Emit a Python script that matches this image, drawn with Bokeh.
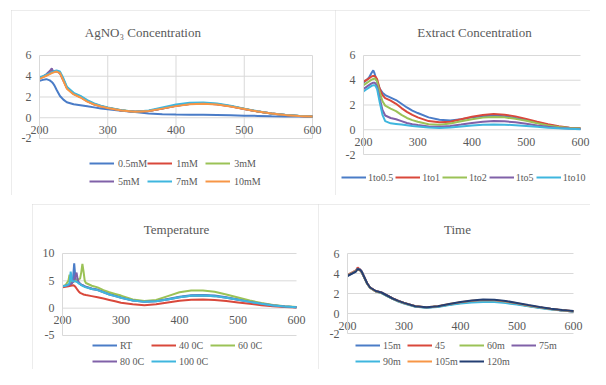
from bokeh.plotting import figure
from bokeh.models import (Range1d, FixedTicker, Legend, LegendItem, LinearAxis, Spacer, Label)
from bokeh.layouts import row, column
from bokeh.embed import file_html
from bokeh.resources import INLINE

# ---------------- data ----------------
wl = [200, 205, 210, 215, 218, 220, 222, 225, 230, 235, 240, 250, 260, 270, 280, 290,
      300, 320, 340, 360, 380, 400, 420, 440, 460, 480, 500, 520, 540, 560, 580, 600]

ag_names = ["0.5mM", "1mM", "3mM", "5mM", "7mM", "10mM"]
ag_05 = [3.55, 3.65, 3.72, 3.6, 3.45, 3.3, 3.1, 2.7, 2.1, 1.75, 1.5, 1.3, 1.2, 1.1, 1.0, 0.9,
         0.82, 0.68, 0.55, 0.42, 0.34, 0.31, 0.3, 0.28, 0.26, 0.23, 0.2, 0.18, 0.15, 0.13, 0.11, 0.1]
ag_1 = [3.8, 3.95, 4.1, 4.3, 4.65, 4.4, 4.45, 4.5, 4.3, 3.6, 2.9, 2.3, 2.0, 1.6, 1.3, 1.1,
        0.95, 0.7, 0.57, 0.65, 0.9, 1.15, 1.32, 1.38, 1.3, 1.1, 0.85, 0.6, 0.4, 0.27, 0.18, 0.12]
ag_3 = [3.85, 3.95, 4.1, 4.25, 4.35, 4.4, 4.45, 4.5, 4.4, 3.7, 2.95, 2.35, 2.05, 1.65, 1.35, 1.12,
        0.96, 0.72, 0.58, 0.66, 0.92, 1.18, 1.36, 1.4, 1.32, 1.12, 0.86, 0.6, 0.4, 0.27, 0.18, 0.12]
ag_5 = [3.8, 3.95, 4.2, 4.5, 4.75, 4.45, 4.45, 4.5, 4.3, 3.6, 2.9, 2.3, 2.0, 1.6, 1.3, 1.1,
        0.95, 0.7, 0.57, 0.65, 0.9, 1.15, 1.33, 1.38, 1.3, 1.1, 0.85, 0.6, 0.4, 0.27, 0.18, 0.12]
ag_7 = [3.9, 4.0, 4.15, 4.3, 4.4, 4.45, 4.5, 4.55, 4.45, 3.8, 3.0, 2.4, 2.1, 1.7, 1.38, 1.15,
        0.98, 0.72, 0.58, 0.7, 1.0, 1.27, 1.45, 1.48, 1.38, 1.15, 0.88, 0.62, 0.42, 0.28, 0.19, 0.13]
ag_10 = [3.75, 3.9, 4.05, 4.2, 4.3, 4.35, 4.4, 4.45, 4.3, 3.55, 2.8, 2.25, 1.95, 1.55, 1.28, 1.08,
         0.93, 0.7, 0.57, 0.64, 0.88, 1.12, 1.3, 1.35, 1.28, 1.08, 0.84, 0.6, 0.4, 0.27, 0.18, 0.12]

ex_names = ["1to0.5", "1to1", "1to2", "1to5", "1to10"]
ex_05 = [3.8, 4.0, 4.2, 4.6, 4.8, 4.6, 4.3, 3.9, 3.3, 3.0, 2.8, 2.6, 2.4, 2.1, 1.8, 1.55,
         1.35, 1.0, 0.8, 0.75, 0.85, 1.0, 1.1, 1.15, 1.1, 0.95, 0.78, 0.58, 0.4, 0.25, 0.15, 0.1]
ex_1 = [3.9, 4.0, 4.15, 4.3, 4.35, 4.35, 4.3, 4.1, 3.3, 2.8, 2.55, 2.35, 2.1, 1.75, 1.45, 1.2,
        1.0, 0.7, 0.6, 0.65, 0.85, 1.05, 1.2, 1.27, 1.22, 1.08, 0.88, 0.65, 0.45, 0.28, 0.17, 0.12]
ex_2 = [3.6, 3.75, 3.9, 4.05, 4.1, 4.15, 4.1, 3.9, 3.0, 2.3, 1.95, 1.7, 1.5, 1.2, 0.95, 0.78,
        0.65, 0.45, 0.4, 0.5, 0.68, 0.85, 0.98, 1.03, 1.0, 0.88, 0.72, 0.52, 0.35, 0.22, 0.14, 0.1]
ex_5 = [3.3, 3.45, 3.6, 3.75, 3.8, 3.8, 3.75, 3.5, 2.5, 1.6, 1.15, 0.95, 0.85, 0.7, 0.55, 0.45,
        0.38, 0.27, 0.24, 0.3, 0.42, 0.55, 0.65, 0.7, 0.68, 0.6, 0.48, 0.35, 0.24, 0.15, 0.1, 0.07]
ex_10 = [3.1, 3.25, 3.4, 3.55, 3.6, 3.6, 3.55, 3.3, 2.2, 1.2, 0.7, 0.52, 0.47, 0.42, 0.36, 0.3,
         0.26, 0.18, 0.15, 0.18, 0.26, 0.34, 0.4, 0.42, 0.41, 0.37, 0.31, 0.24, 0.17, 0.12, 0.08, 0.05]

wl_t = [200, 205, 210, 212, 214, 216, 218, 220, 222, 224, 226, 228, 230, 232, 234, 236, 238, 240,
        250, 260, 270, 280, 290, 300, 320, 340, 360, 380, 400, 420, 440, 460, 480, 500, 520, 540,
        560, 580, 600]
t_names = ["RT", "40 0C", "60 0C", "80 0C", "100 0C"]
t_rt = [4.0, 4.1, 4.2, 4.3, 4.35, 4.5, 5.5, 8.2, 5.5, 5.0, 4.8, 4.6, 4.4, 4.3, 4.2, 4.1, 4.0, 3.9,
        3.6, 3.4, 3.0, 2.6, 2.3, 2.0, 1.45, 1.2, 1.3, 1.7, 2.1, 2.35, 2.4, 2.3, 2.0, 1.6, 1.2, 0.85,
        0.55, 0.3, 0.15]
t_40 = [3.8, 3.9, 4.0, 4.05, 4.1, 4.15, 4.2, 4.1, 3.9, 3.6, 3.3, 3.0, 2.8, 2.7, 2.6, 2.5, 2.45, 2.4,
        2.2, 2.0, 1.75, 1.5, 1.25, 1.0, 0.7, 0.55, 0.7, 1.05, 1.35, 1.55, 1.6, 1.5, 1.3, 1.05, 0.8,
        0.55, 0.35, 0.2, 0.1]
t_60 = [4.0, 4.2, 5.0, 6.1, 4.6, 4.7, 4.8, 4.9, 5.0, 5.1, 5.2, 5.3, 5.4, 6.5, 8.1, 6.7, 5.0, 4.6,
        4.1, 3.8, 3.3, 2.9, 2.6, 2.3, 1.6, 1.3, 1.5, 2.2, 2.9, 3.25, 3.25, 3.0, 2.5, 1.95, 1.4, 0.95,
        0.6, 0.35, 0.2]
t_80 = [4.0, 4.1, 4.2, 4.3, 4.4, 4.6, 4.8, 5.2, 5.8, 6.5, 5.2, 4.7, 4.5, 4.3, 4.2, 4.1, 4.0, 3.9,
        3.5, 3.3, 2.9, 2.5, 2.2, 1.9, 1.4, 1.15, 1.25, 1.6, 2.0, 2.25, 2.3, 2.2, 1.9, 1.55, 1.15, 0.8,
        0.5, 0.3, 0.15]
t_100 = [4.0, 4.1, 4.3, 4.6, 6.7, 5.0, 4.9, 4.9, 4.9, 4.8, 4.7, 4.5, 4.4, 4.2, 4.1, 4.0, 3.9, 3.8,
         3.5, 3.3, 2.9, 2.5, 2.2, 1.9, 1.4, 1.15, 1.25, 1.6, 2.0, 2.25, 2.3, 2.2, 1.9, 1.55, 1.15, 0.8,
         0.5, 0.3, 0.15]

tm_names = ["15m", "45", "60m", "75m", "90m", "105m", "120m"]
tm_15 = [3.8, 3.95, 4.1, 4.25, 4.5, 4.45, 4.4, 4.2, 3.6, 3.0, 2.6, 2.25, 2.1, 1.8, 1.5, 1.25,
         1.05, 0.72, 0.6, 0.7, 0.9, 1.08, 1.2, 1.28, 1.26, 1.14, 0.97, 0.77, 0.59, 0.44, 0.31, 0.21]
tm_45 = [3.85, 4.0, 4.15, 4.3, 4.6, 4.5, 4.4, 4.2, 3.6, 3.0, 2.6, 2.25, 2.1, 1.8, 1.5, 1.25,
         1.05, 0.72, 0.61, 0.71, 0.91, 1.1, 1.23, 1.3, 1.28, 1.16, 0.98, 0.78, 0.6, 0.45, 0.32, 0.22]
tm_60 = [3.8, 3.95, 4.1, 4.25, 4.45, 4.4, 4.35, 4.15, 3.55, 2.95, 2.55, 2.2, 2.05, 1.75, 1.47, 1.22,
         1.02, 0.7, 0.6, 0.69, 0.88, 1.06, 1.18, 1.26, 1.24, 1.12, 0.96, 0.76, 0.58, 0.44, 0.31, 0.21]
tm_75 = [3.82, 3.97, 4.12, 4.27, 4.48, 4.42, 4.38, 4.18, 3.58, 2.98, 2.58, 2.22, 2.08, 1.78, 1.49, 1.24,
         1.04, 0.71, 0.6, 0.7, 0.9, 1.08, 1.21, 1.28, 1.26, 1.14, 0.97, 0.77, 0.59, 0.44, 0.31, 0.21]
tm_90 = [3.8, 3.95, 4.1, 4.25, 4.42, 4.38, 4.35, 4.15, 3.55, 2.95, 2.55, 2.2, 2.05, 1.75, 1.46, 1.2,
         1.0, 0.68, 0.58, 0.66, 0.84, 1.0, 1.1, 1.16, 1.14, 1.04, 0.9, 0.72, 0.55, 0.41, 0.29, 0.19]
tm_105 = [3.82, 3.97, 4.12, 4.27, 4.4, 4.36, 4.33, 4.15, 3.58, 2.98, 2.58, 2.22, 2.08, 1.78, 1.5, 1.25,
          1.05, 0.72, 0.62, 0.72, 0.94, 1.13, 1.27, 1.34, 1.32, 1.2, 1.02, 0.81, 0.62, 0.46, 0.33, 0.23]
tm_120 = [3.75, 3.9, 4.05, 4.2, 4.45, 4.4, 4.38, 4.2, 3.6, 3.0, 2.6, 2.25, 2.1, 1.8, 1.5, 1.26,
          1.06, 0.73, 0.62, 0.73, 0.96, 1.16, 1.31, 1.4, 1.38, 1.25, 1.06, 0.84, 0.64, 0.48, 0.34, 0.24]

x_ticks = [200, 300, 400, 500, 600]
y_ticks_a = [-2, 0, 2, 4, 6]
y_ticks_t = [-5, 0, 5, 10]

COLORS = ["#4a7cc7", "#d9483b", "#9bc256", "#8061a8", "#3fb6de", "#f79646", "#243f73"]
SERIF = "Liberation Serif"
TXT = "#595959"
GRID = "#d9d9d9"
OUTLINE = {"outline": "1px solid #d9d9d9", "outline-offset": "-1px"}


def style_axis(ax, standoff):
    ax.major_tick_line_color = None
    ax.minor_tick_line_color = None
    ax.major_tick_out = 0
    ax.major_tick_in = 0
    ax.major_label_text_font = SERIF
    ax.major_label_text_font_size = "12px"
    ax.major_label_text_color = TXT
    ax.major_label_standoff = standoff


# Each panel: the plot frame fills the whole canvas and everything is drawn inside it.
def flat_panel(title, w, h, xrange, yrange, yticks, title_xy, xs, series, names, rows,
               legend_x, legend_y0, label_width, gh, standoff, spacing, vgrid):
    p = figure(width=w, height=h, output_backend="svg", toolbar_location=None,
               x_range=Range1d(*xrange), y_range=Range1d(*yrange),
               x_axis_location=None, y_axis_location=None,
               min_border=0, min_border_left=0, min_border_right=0,
               min_border_top=0, min_border_bottom=0,
               outline_line_color=None, background_fill_color="white",
               border_fill_color="white", styles=OUTLINE)
    p.xgrid.grid_line_color = None
    p.ygrid.grid_line_color = None
    # horizontal gridlines spanning the wavelength axis only
    p.segment(x0=[x_ticks[0]] * len(yticks), x1=[x_ticks[-1]] * len(yticks),
              y0=yticks, y1=yticks, line_color=GRID, line_width=1)
    if vgrid:
        vx = x_ticks[1:]
        p.segment(x0=vx, x1=vx, y0=[yticks[0]] * len(vx), y1=[yticks[-1]] * len(vx),
                  line_color=GRID, line_width=1)
    ya = LinearAxis(ticker=FixedTicker(ticks=yticks), fixed_location=x_ticks[0],
                    bounds=(yticks[0], yticks[-1]), axis_line_color=GRID,
                    major_label_overrides={t: str(t) for t in yticks if t < 0})
    style_axis(ya, 8)
    p.add_layout(ya, "left")
    xa = LinearAxis(ticker=FixedTicker(ticks=x_ticks), fixed_location=0,
                    bounds=(x_ticks[0], x_ticks[-1]), axis_line_color=None)
    style_axis(xa, 8)
    p.add_layout(xa, "below")
    renderers = []
    for i, ys in enumerate(series):
        renderers.append(p.line(xs, ys, line_color=COLORS[i], line_width=2))
    start = 0
    for r_i, n in enumerate(rows):
        items = [LegendItem(label=names[k], renderers=[renderers[k]]) for k in range(start, start + n)]
        start += n
        lg = Legend(items=items, location=(legend_x, legend_y0 + gh * (len(rows) - 1 - r_i)),
                    orientation="horizontal",
                    glyph_width=25, glyph_height=gh, label_height=gh, label_width=label_width,
                    label_standoff=standoff, spacing=spacing, padding=0, margin=0,
                    border_line_color=None, background_fill_alpha=0,
                    label_text_font=SERIF, label_text_font_size="10px", label_text_color=TXT)
        p.add_layout(lg)
    p.add_layout(Label(x=title_xy[0], y=title_xy[1], x_units="screen", y_units="screen",
                       text=title, text_font=SERIF, text_font_size="13px", text_color=TXT,
                       text_align="center", text_baseline="middle"))
    return p


# top-left: canvas at page (11, 10), 324x185; 200->x28, 600->x301; 6->y45, -2->y128
p1 = flat_panel("AgNO\u2083  Concentration", 324, 185, (158.97, 633.7), (-7.494, 10.337), y_ticks_a,
                (133, 163), wl, [ag_05, ag_1, ag_3, ag_5, ag_7, ag_10], ag_names, [3, 3],
                78, 5, 29, 18, 4, 0, True)

# top-right: canvas at page (335, 10), 255x185; 200->x28, 600->x245; 6->y45, -2->y144
p2 = flat_panel("Extract Concentration", 255, 185, (148.39, 618.43), (-5.313, 9.636), y_ticks_a,
                (139, 163), wl, [ex_05, ex_1, ex_2, ex_5, ex_10], ex_names, [5],
                6, 9, 10, 18, 2, 2, False)

# bottom-left: canvas at page (32, 204), 286x165; 200->x30, 600->x264; 10->y49, -5->y131
p3 = flat_panel("Temperature", 286, 165, (148.7, 637.6), (-11.22, 18.96), y_ticks_t, (144, 140),
                wl_t, [t_rt, t_40, t_60, t_80, t_100], t_names, [3, 2], 60, 0, 31, 16, 3, 0, False)

# bottom-right: canvas at page (318, 204), 272x165; 200->x29, 600->x255; 6->y49, -2->y129
p4 = flat_panel("Time", 272, 165, (148.7, 630.1), (-5.6, 10.9), y_ticks_a, (139, 140),
                wl, [tm_15, tm_45, tm_60, tm_75, tm_90, tm_105, tm_120], tm_names, [4, 3],
                37, 0, 24, 16, 3, 0, False)

layout = column(
    Spacer(width=10, height=10),
    row(Spacer(width=11, height=185), p1, p2),
    Spacer(width=10, height=9),
    row(Spacer(width=32, height=165), p3, p4),
)

open("out.html", "w").write(file_html(layout, INLINE))
